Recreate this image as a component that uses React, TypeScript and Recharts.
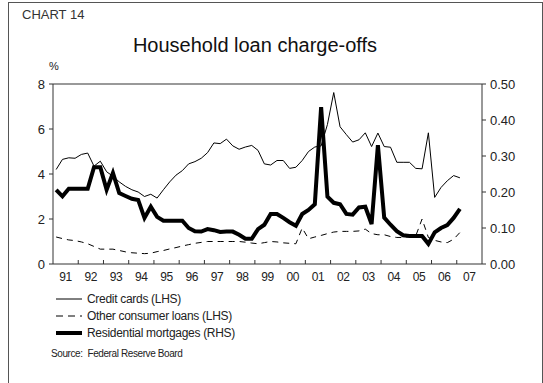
import { LineChart, Line, XAxis, YAxis, ReferenceLine } from 'recharts'

// quarterly, 1991 Q1 .. 2007 Q1
const creditCards = [
  4.2, 4.65, 4.72, 4.7, 4.87, 4.93, 4.35, 4.57, 4.1, 3.9,
  3.65, 3.45, 3.3, 3.2, 3.0, 3.1, 2.93, 3.3, 3.65, 3.95,
  4.15, 4.45, 4.55, 4.7, 4.95, 5.38, 5.35, 5.55, 5.25, 5.1,
  5.2, 5.27, 5.05, 4.45, 4.4, 4.6, 4.6, 4.25, 4.3, 4.6,
  5.0, 5.2, 5.25, 6.2, 7.62, 6.1, 5.75, 5.42, 5.52, 5.83,
  5.22, 5.82, 5.22, 5.19, 4.52, 4.52, 4.52, 4.25, 4.23, 5.83,
  2.96, 3.4, 3.7, 3.93, 3.83,
]

const otherConsumer = [
  1.2, 1.13, 1.07, 1.04, 0.98, 0.9, 0.78, 0.66, 0.66, 0.66,
  0.6, 0.54, 0.5, 0.48, 0.46, 0.48, 0.55, 0.6, 0.67, 0.73,
  0.8, 0.86, 0.92, 0.96, 1.0, 1.0, 1.0, 1.0, 1.0, 1.0,
  0.97, 0.93, 0.9, 0.95, 1.0, 0.98, 0.94, 0.92, 0.9, 1.6,
  1.12, 1.2, 1.27, 1.35, 1.42, 1.45, 1.45, 1.45, 1.47, 1.55,
  1.35, 1.3, 1.3, 1.22, 1.18, 1.18, 1.22, 1.25, 2.0, 1.18,
  1.05, 0.98, 0.95, 1.1, 1.4,
]

const mortgages = [
  0.206, 0.188, 0.209, 0.209, 0.209, 0.209, 0.269, 0.269, 0.206, 0.253,
  0.197, 0.189, 0.181, 0.178, 0.128, 0.159, 0.131, 0.12, 0.12, 0.12,
  0.12, 0.1, 0.091, 0.09, 0.097, 0.094, 0.089, 0.09, 0.09, 0.081,
  0.07, 0.07, 0.097, 0.109, 0.139, 0.139, 0.128, 0.116, 0.106, 0.139,
  0.15, 0.166, 0.436, 0.187, 0.17, 0.166, 0.139, 0.137, 0.157, 0.159,
  0.111, 0.33, 0.129, 0.109, 0.091, 0.08, 0.078, 0.078, 0.078, 0.056,
  0.088, 0.1, 0.108, 0.128, 0.153,
]

const yearLabels = ['91', '92', '93', '94', '95', '96', '97', '98', '99', '00', '01', '02', '03', '04', '05', '06', '07']
const leftTicks = [0, 2, 4, 6, 8]
const rightTicks = [0, 0.1, 0.2, 0.3, 0.4, 0.5]

const data = creditCards.map((v, i) => ({
  q: i + 0.5,
  credit: v,
  other: otherConsumer[i],
  mortgage: mortgages[i],
}))

const yearStarts = yearLabels.map((_, i) => i * 4).filter(v => v > 0)

const FONT = '"Liberation Sans", Arial, sans-serif'
const HALF_YEAR = 12.6

function YearTick(props: any) {
  const { x, y, payload } = props
  const idx = Math.round(payload.value / 4)
  return (
    <g>
      <line x1={x} y1={y} x2={x} y2={y - 4} stroke="#333" />
      {idx - 1 >= 0 && idx - 1 < yearLabels.length && (
        <text x={x - HALF_YEAR} y={y + 17} textAnchor="middle" fontSize={12} fill="#222" fontFamily={FONT} letterSpacing={-0.4}>
          {yearLabels[idx - 1]}
        </text>
      )}
      {idx === yearLabels.length - 1 && (
        <text x={x + HALF_YEAR} y={y + 17} textAnchor="middle" fontSize={12} fill="#222" fontFamily={FONT} letterSpacing={-0.4}>
          {yearLabels[idx]}
        </text>
      )}
    </g>
  )
}

function LegendRow({ top, dash, width, label }: { top: number; dash?: string; width: number; label: string }) {
  return (
    <div style={{ position: 'absolute', left: 56, top: top - 8, height: 16, display: 'flex', alignItems: 'center' }}>
      <svg width={27} height={16}>
        <line x1={0} y1={8} x2={26} y2={8} stroke="#000" strokeWidth={width} strokeDasharray={dash} />
      </svg>
      <span style={{ marginLeft: 4, fontSize: 12, color: '#222', letterSpacing: -0.3 }}>{label}</span>
    </div>
  )
}

export default function App() {
  return (
    <div style={{ position: 'absolute', left: 0, top: 0, width: 543, height: 383, overflow: 'hidden', background: '#fff', fontFamily: FONT }}>
      <div style={{ position: 'absolute', left: 8, top: 2, width: 533, height: 420, border: '1px solid #555' }} />
      <div style={{ position: 'absolute', left: 22, top: 7, fontSize: 13, color: '#333' }}>CHART 14</div>
      <div style={{ position: 'absolute', left: 0, width: 510, top: 34, textAlign: 'center', fontSize: 20, color: '#111' }}>
        Household loan charge-offs
      </div>
      <div style={{ position: 'absolute', left: 49, top: 60, fontSize: 11, color: '#222' }}>%</div>

      <div style={{ position: 'absolute', left: 0, top: 0 }}>
        <LineChart width={543} height={383} data={data} margin={{ top: 84, left: 13, right: 11, bottom: 99 }}>
          <XAxis
            dataKey="q"
            type="number"
            domain={[0, 68]}
            ticks={yearStarts}
            interval={0}
            tick={<YearTick />}
            tickLine={false}
            tickSize={0}
            tickMargin={0}
            height={20}
            stroke="#333"
          />
          <YAxis
            yAxisId="left"
            domain={[0, 8]}
            ticks={leftTicks}
            interval={0}
            width={40}
            tickSize={4}
            tickMargin={4}
            stroke="#333"
            tick={{ fill: '#222', fontSize: 13, fontFamily: FONT }}
          />
          <YAxis
            yAxisId="right"
            orientation="right"
            domain={[0, 0.5]}
            ticks={rightTicks}
            interval={0}
            width={50}
            tickSize={4}
            tickMargin={4}
            stroke="#333"
            tickFormatter={(v: number) => v.toFixed(2)}
            tick={{ fill: '#222', fontSize: 13, fontFamily: FONT }}
          />
          <ReferenceLine yAxisId="left" y={8} stroke="#777" strokeWidth={1.5} />
          <Line yAxisId="left" type="linear" dataKey="credit" stroke="#000" strokeWidth={1} dot={false} isAnimationActive={false} />
          <Line yAxisId="left" type="linear" dataKey="other" stroke="#000" strokeWidth={1} strokeDasharray="6 5" dot={false} isAnimationActive={false} />
          <Line yAxisId="right" type="linear" dataKey="mortgage" stroke="#000" strokeWidth={4} dot={false} isAnimationActive={false} />
        </LineChart>
      </div>

      <LegendRow top={299} width={1} label="Credit cards (LHS)" />
      <LegendRow top={316} width={1} dash="7 5" label="Other consumer loans (LHS)" />
      <LegendRow top={333} width={4} label="Residential mortgages (RHS)" />
      <div style={{ position: 'absolute', left: 51, top: 348, fontSize: 10, color: '#222', letterSpacing: -0.4, whiteSpace: 'pre' }}>
        Source:  Federal Reserve Board
      </div>
    </div>
  )
}
